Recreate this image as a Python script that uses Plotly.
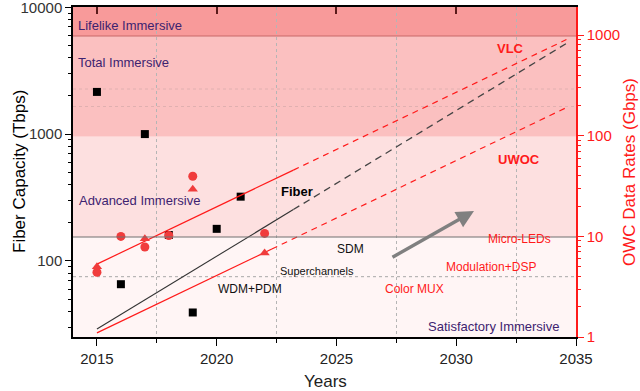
import plotly.graph_objects as go

# ---------------- data ----------------
fiber_years = [2015, 2016, 2017, 2018, 2019, 2020, 2021]
fiber_tbps = [2150, 65.5, 1000, 160, 39.2, 179, 321]

owc_circle_years = [2015, 2016, 2017, 2018, 2019, 2022]
owc_circle_gbps = [4.4, 10.0, 7.85, 10.2, 39.6, 10.7]

owc_tri_years = [2015, 2017, 2019, 2022]
owc_tri_gbps = [5.0, 9.5, 29.4, 6.84]

fiber_fit_years = [2015, 2023.2]
fiber_fit_tbps = [29, 254]
fiber_proj_years = [2023.2, 2034.6]
fiber_proj_tbps = [254, 5180]

vlc_fit_years = [2015, 2023.2]
vlc_fit_gbps = [5.3, 45.6]
vlc_proj_years = [2023.2, 2034.6]
vlc_proj_gbps = [45.6, 904]

uwoc_fit_years = [2015, 2022.3]
uwoc_fit_gbps = [1.1, 7.48]
uwoc_proj_years = [2022.3, 2034.6]
uwoc_proj_gbps = [7.48, 190.6]

year_ticks = [2015, 2020, 2025, 2030, 2035]
left_ticks = [100, 1000, 10000]
right_ticks = [1, 10, 100, 1000]

# ---------------- layout helpers ----------------
L, R, T, B = 73, 576, 7, 337
def PX(px):
    return (px - L) / (R - L)
def PY(py):
    return (B - py) / (B - T)

FONT = "Arial, Liberation Sans, sans-serif"
PURPLE = "#3d2370"
RED = "#ff1a1a"

fig = go.Figure()

# empty trace to show top axis
fig.add_trace(go.Scatter(x=[], y=[], xaxis="x2", yaxis="y", showlegend=False, hoverinfo="skip"))

# fiber fit (left axis)
fig.add_trace(go.Scatter(x=fiber_fit_years, y=fiber_fit_tbps, mode="lines",
                         line=dict(color="#333333", width=1.1), showlegend=False))
fig.add_trace(go.Scatter(x=fiber_proj_years, y=fiber_proj_tbps, mode="lines",
                         line=dict(color="#444444", width=1.3, dash="7px,5px"), showlegend=False))
fig.add_trace(go.Scatter(x=fiber_years, y=fiber_tbps, mode="markers",
                         marker=dict(symbol="square", size=8, color="black"), showlegend=False))

# OWC (right axis)
for xs, ys, d in [(vlc_fit_years, vlc_fit_gbps, "solid"), (vlc_proj_years, vlc_proj_gbps, "6px,5px"),
                  (uwoc_fit_years, uwoc_fit_gbps, "solid"), (uwoc_proj_years, uwoc_proj_gbps, "6px,5px")]:
    fig.add_trace(go.Scatter(x=xs, y=ys, mode="lines", yaxis="y2",
                             line=dict(color=RED, width=1.2, dash=d), showlegend=False))
fig.add_trace(go.Scatter(x=owc_circle_years, y=owc_circle_gbps, mode="markers", yaxis="y2",
                         marker=dict(symbol="circle", size=9, color="#f03c3c"), showlegend=False))
fig.add_trace(go.Scatter(x=owc_tri_years, y=owc_tri_gbps, mode="markers", yaxis="y2",
                         marker=dict(symbol="triangle-up", size=9, color="#f03c3c"), showlegend=False))

# ---------------- background bands ----------------
shapes = []
bands = [
    (PY(36), 1.0, "#f89a9a"),
    (PY(136.7), PY(36), "#fbc0c0"),
    (PY(237), PY(136.7), "#fde0e0"),
    (0.0, PY(237), "#fff5f5"),
]
for y0, y1, c in bands:
    shapes.append(dict(type="rect", xref="paper", yref="paper", x0=0, x1=1, y0=y0, y1=y1,
                       fillcolor=c, line=dict(width=0), layer="below"))
shapes.append(dict(type="line", xref="paper", yref="paper", x0=0, x1=1, y0=PY(36), y1=PY(36),
                   line=dict(color="#c86868", width=1), layer="below"))
shapes.append(dict(type="line", xref="paper", yref="paper", x0=0, x1=1, y0=PY(237), y1=PY(237),
                   line=dict(color="#707070", width=1), layer="above"))
for yy, col in [(276.7, "#a8a8a8"), (89, "#e0b0b0"), (106.5, "#e0b0b0")]:
    shapes.append(dict(type="line", xref="paper", yref="paper", x0=0, x1=1, y0=PY(yy), y1=PY(yy),
                       line=dict(color=col, width=1, dash="dot"), layer="below"))

# ---------------- annotations ----------------
def txt(text, px, py, color, size, anchor="center", bold=False):
    return dict(text=("<b>%s</b>" % text) if bold else text, x=PX(px), y=PY(py),
                xref="paper", yref="paper", xanchor=anchor, yanchor="middle",
                showarrow=False, font=dict(family=FONT, size=size, color=color))

ann = [
    txt("Lifelike Immersive", 76, 25.5, PURPLE, 13, "left"),
    txt("Total Immersive", 76, 62.5, PURPLE, 13, "left"),
    txt("Advanced Immersive", 77, 200, PURPLE, 13, "left"),
    txt("Satisfactory Immersive", 426, 326, PURPLE, 13, "left"),
    txt("Fiber", 297, 192, "black", 13, bold=True),
    txt("VLC", 510, 48, RED, 13, bold=True),
    txt("UWOC", 519, 159, RED, 13, bold=True),
    txt("SDM", 350, 249, "#111111", 12),
    txt("Superchannels", 317, 270.5, "#111111", 11),
    txt("WDM+PDM", 250, 289, "#111111", 12),
    txt("Color MUX", 414, 289, RED, 12),
    txt("Modulation+DSP", 491, 267, RED, 12),
    txt("Micro-LEDs", 519, 238.5, RED, 12),
    dict(text="", x=PX(474), y=PY(211), xref="paper", yref="paper", showarrow=True,
         ax=391 - 474, ay=258 - 211, arrowcolor="#808080", arrowwidth=3.5, arrowhead=2, arrowsize=1),
    # axis titles placed explicitly
    dict(text="Years", x=PX(325), y=PY(381), xref="paper", yref="paper", showarrow=False,
         xanchor="center", yanchor="middle", font=dict(family=FONT, size=17, color="#222222")),
    dict(text="Fiber Capacity (Tbps)", x=PX(19), y=PY(172), xref="paper", yref="paper",
         showarrow=False, textangle=-90, xanchor="center", yanchor="middle",
         font=dict(family=FONT, size=17, color="black")),
    dict(text="OWC Data Rates (Gbps)", x=PX(629), y=PY(172), xref="paper", yref="paper",
         showarrow=False, textangle=-90, xanchor="center", yanchor="middle",
         font=dict(family=FONT, size=17, color=RED)),
]

fig.update_layout(
    width=640, height=391,
    margin=dict(l=L, r=640 - R, t=T, b=391 - B, autoexpand=False),
    paper_bgcolor="white", plot_bgcolor="white",
    font=dict(family=FONT, color="#222222"),
    shapes=shapes, annotations=ann,
    xaxis=dict(range=[2014, 2035], tickvals=year_ticks, ticks="outside", ticklen=7,
               tickcolor="black", showline=True, linecolor="black", linewidth=1.5,
               showgrid=False, zeroline=False, tickfont=dict(size=15, color="#222222"),
               automargin=False,
               minor=dict(tickvals=[2017.5, 2022.5, 2027.5, 2032.5], ticks="outside", ticklen=4,
                          tickcolor="black", showgrid=True, griddash="dot",
                          gridcolor="#b5b5b5", gridwidth=1)),
    xaxis2=dict(range=[2014, 2035], overlaying="x", side="top", tickvals=year_ticks[:-1],
                ticks="inside", ticklen=7, tickcolor="#5a1a1a", tickwidth=1.5,
                showticklabels=False, showline=True, linecolor="black", linewidth=2,
                showgrid=False, zeroline=False, automargin=False),
    yaxis=dict(type="log", range=[1.40, 4.002], tickvals=left_ticks, ticktext=["100", "1000", "10000"],
               ticks="outside", ticklen=6, tickcolor="black", showline=True, linecolor="black",
               linewidth=1.5, showgrid=False, zeroline=False, automargin=False,
               ticklabeloverflow="allow",
               tickfont=dict(size=15, color="#333333"),
               minor=dict(tickvals=[30, 40, 50, 60, 70, 80, 90, 200, 300, 400, 500, 600, 700, 800, 900,
                                    2000, 3000, 4000, 5000, 6000, 7000, 8000, 9000],
                          ticks="outside", ticklen=3, tickcolor="black", showgrid=False)),
    yaxis2=dict(type="log", range=[0, 3.28], overlaying="y", side="right", tickvals=right_ticks,
                ticktext=["1", "10", "100", "1000"],
                ticks="outside", ticklen=6, tickcolor=RED, showline=True, linecolor=RED,
                linewidth=1.5, showgrid=False, zeroline=False, automargin=False,
                ticklabeloverflow="allow",
                tickfont=dict(size=15, color=RED),
                minor=dict(tickvals=[2, 3, 4, 5, 6, 7, 8, 9, 20, 30, 40, 50, 60, 70, 80, 90,
                                     200, 300, 400, 500, 600, 700, 800, 900, 2000],
                           ticks="outside", ticklen=3, tickcolor=RED, showgrid=False)),
)

fig.write_html("out.html", config={"displayModeBar": False},
               post_script="document.body.style.margin='0';document.body.style.overflow='hidden';")
